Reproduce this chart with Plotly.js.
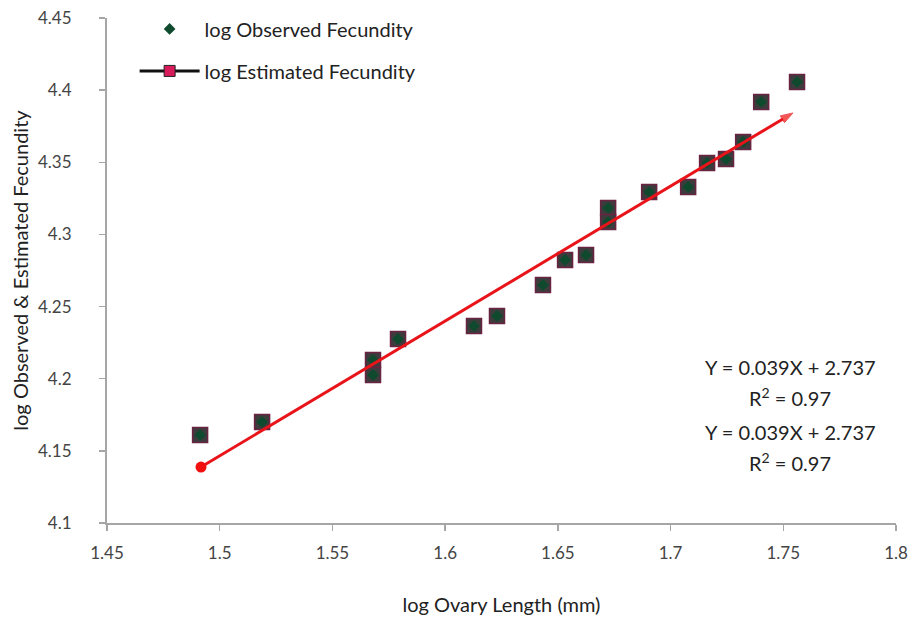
<!DOCTYPE html>
<html>
<head>
<meta charset="utf-8">
<script src="https://cdn.plot.ly/plotly-3.0.1.min.js"></script>
<style>html,body{margin:0;padding:0;background:#fff;}#chart{width:914px;height:621px;}</style>
</head>
<body>
<div id="chart"></div>
<script>
// Data
const ovaryLength = [1.4913, 1.5188, 1.568, 1.568, 1.5791, 1.6128, 1.623, 1.6434, 1.6532, 1.6625, 1.6723, 1.6723, 1.6905, 1.7078, 1.7162, 1.7246, 1.7322, 1.7402, 1.7561];
const observedFecundity = [4.161, 4.170, 4.213, 4.2026, 4.2275, 4.2365, 4.2435, 4.265, 4.2823, 4.2857, 4.3183, 4.3086, 4.3294, 4.3329, 4.3495, 4.3523, 4.3641, 4.3918, 4.4057];
const estimatedFecundity = [4.161, 4.170, 4.213, 4.2026, 4.2275, 4.2365, 4.2435, 4.265, 4.2823, 4.2857, 4.3183, 4.3086, 4.3294, 4.3329, 4.3495, 4.3523, 4.3641, 4.3918, 4.4057];
const trendX = [1.4917, 1.7543];
const trendY = [4.1388, 4.3842];
const eqLines = ["Y = 0.039X + 2.737", "R<sup>2</sup> = 0.97", "Y = 0.039X + 2.737", "R<sup>2</sup> = 0.97"];
const xTicks = [1.45, 1.5, 1.55, 1.6, 1.65, 1.7, 1.75, 1.8];
const yTicks = [4.1, 4.15, 4.2, 4.25, 4.3, 4.35, 4.4, 4.45];

const FONT = "Lato, 'Open Sans', sans-serif";

const traces = [
  {
    x: ovaryLength, y: estimatedFecundity, type: 'scatter', mode: 'markers',
    name: 'log Estimated Fecundity', showlegend: false,
    marker: {symbol: 'square', size: 15, color: '#3c3c3c', line: {color: '#6a2442', width: 1.5}}
  },
  {
    x: ovaryLength, y: observedFecundity, type: 'scatter', mode: 'markers',
    name: 'log Observed Fecundity', legendgroup: 'a', legendrank: 1,
    marker: {symbol: 'diamond', size: 9, color: '#0f4a2f'}
  },
  {
    x: [null], y: [null], type: 'scatter', mode: 'lines+markers',
    name: 'log Estimated Fecundity', legendgroup: 'b', legendrank: 2,
    line: {color: '#111', width: 3},
    marker: {symbol: 'square', size: 11, color: '#d81b5a', line: {color: '#222', width: 1}}
  },
  {
    x: trendX, y: trendY, type: 'scatter', mode: 'lines+markers', showlegend: false,
    line: {color: '#e8141a', width: 3},
    marker: {symbol: 'arrow', angleref: 'previous', size: [0, 13], color: '#f01010'}
  },
  {
    x: trendX.slice(0, 1), y: trendY.slice(0, 1), type: 'scatter', mode: 'markers', showlegend: false,
    marker: {symbol: 'circle', size: 11, color: '#f01010'}
  }
];

const eqY = [0.309, 0.250, 0.180, 0.121];
const annotations = eqLines.map((t, i) => ({
  xref: 'paper', yref: 'paper', x: 0.866, y: eqY[i],
  xanchor: 'center', yanchor: 'middle', showarrow: false,
  text: t, font: {family: FONT, size: 20, color: '#222'}
}));

const layout = {
  width: 914, height: 621,
  margin: {l: 107, r: 18, t: 18, b: 98, autoexpand: false},
  paper_bgcolor: '#fff', plot_bgcolor: '#fff',
  font: {family: FONT, color: '#333'},
  showlegend: true,
  legend: {
    x: 0.035, y: 1.017, xanchor: 'left', yanchor: 'top',
    font: {family: FONT, size: 20, color: '#222'},
    itemwidth: 60,
    traceorder: 'grouped', tracegroupgap: 13, bgcolor: 'rgba(0,0,0,0)'
  },
  xaxis: {
    range: [1.45, 1.8], tickvals: xTicks, ticktext: xTicks.map(String),
    showgrid: false, zeroline: false, showline: true, linecolor: '#a6a6a6', linewidth: 2,
    ticks: 'outside', ticklen: 6, tickcolor: '#a6a6a6', tickwidth: 1.5,
    ticklabelstandoff: 8,
    tickfont: {family: FONT, size: 17, color: '#444'},
    title: {text: 'log Ovary Length (mm)', font: {family: FONT, size: 20, color: '#222'}, standoff: 36}
  },
  yaxis: {
    range: [4.1, 4.45], tickvals: yTicks, ticktext: yTicks.map(String),
    showgrid: false, zeroline: false, showline: true, linecolor: '#a6a6a6', linewidth: 2,
    ticks: 'outside', ticklen: 6, tickcolor: '#a6a6a6', tickwidth: 1.5,
    ticklabelstandoff: 24,
    tickfont: {family: FONT, size: 17, color: '#444'},
    title: {text: 'log Observed &amp; Estimated Fecundity', font: {family: FONT, size: 20, color: '#222'}, standoff: 4}
  },
  annotations: annotations
};

Plotly.newPlot('chart', traces, layout, {displayModeBar: false, staticPlot: true});
</script>
</body>
</html>
